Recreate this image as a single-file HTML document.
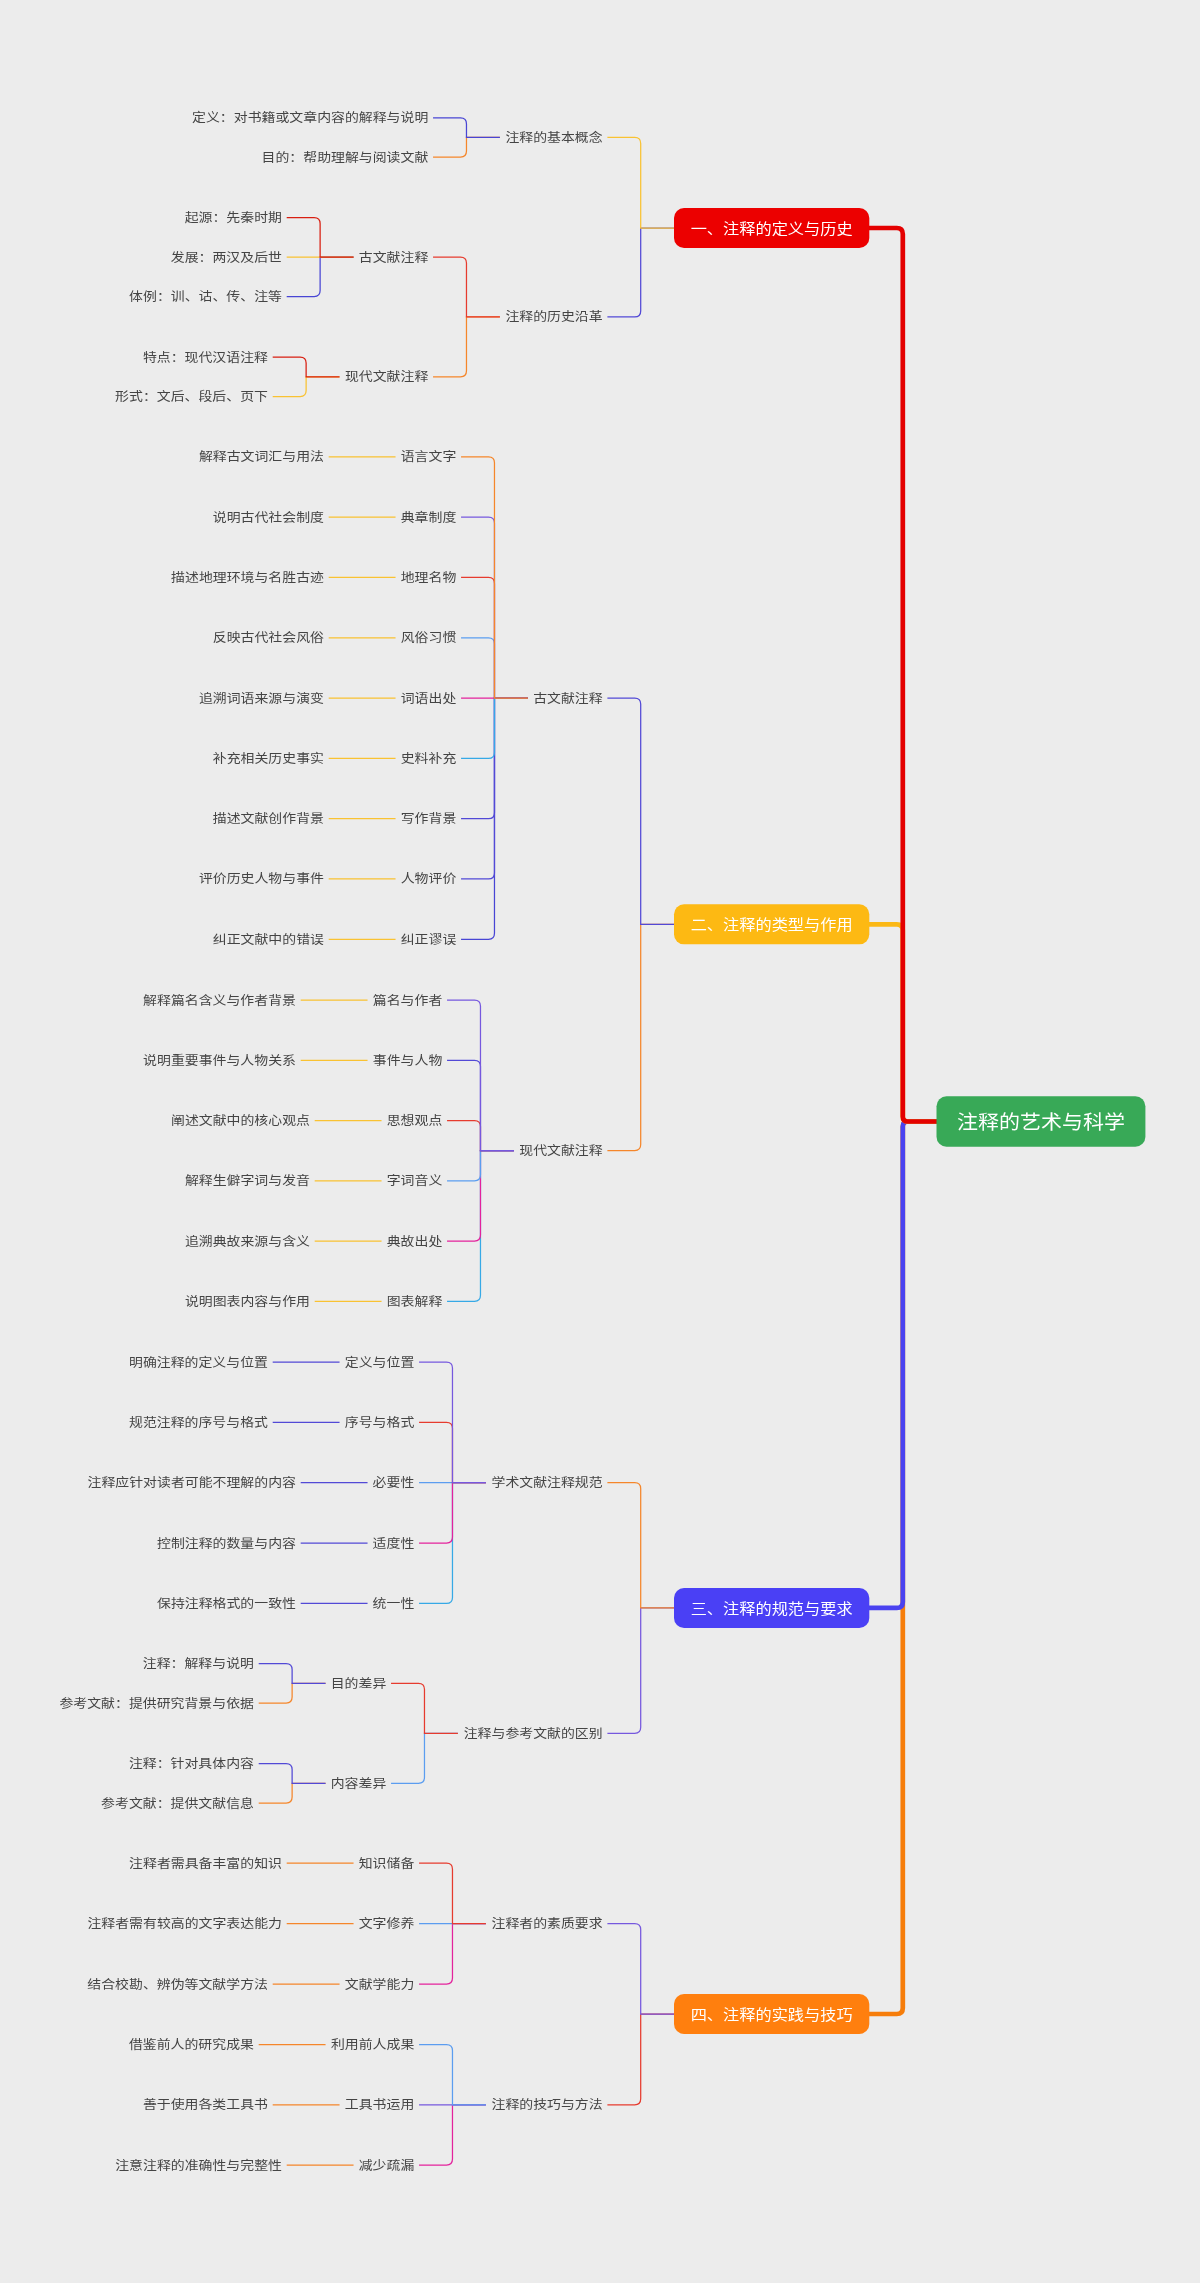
<!DOCTYPE html>
<html lang="zh-CN">
<head>
<meta charset="utf-8">
<title>注释的艺术与科学</title>
<style>
html,body{margin:0;padding:0;background:#ececec;}
body{width:1200px;height:2283px;overflow:hidden;font-family:"Liberation Sans", "Noto Sans CJK SC", sans-serif;}
svg{display:block;will-change:transform;}
svg text{font-family:"Liberation Sans", "Noto Sans CJK SC", sans-serif;font-size:13.9px;font-weight:400;fill:#444;text-anchor:end;}
svg text.t0{font-size:21px;font-weight:400;fill:#fff;text-anchor:middle;}
svg text.t1{font-size:16.2px;fill:#fff;text-anchor:middle;font-weight:400;}
.thin path{fill:none;stroke-width:1.25;}
.thick path{fill:none;stroke-width:4.7;stroke-linejoin:round;}
</style>
</head>
<body>
<svg width="1200" height="2283" viewBox="0 0 1200 2283">
<rect width="1200" height="2283" fill="#ececec"/>
<g class="thin">
<path d="M286.7 2165H353.55" stroke="#f5862a"/>
<path d="M272.7 2104.8H339.55" stroke="#f5862a"/>
<path d="M258.7 2044.6H325.55" stroke="#f5862a"/>
<path d="M419.05 2165H446.47Q452.47 2165 452.47 2159V2104.8H485.9" stroke="#e3229c"/>
<path d="M419.05 2104.8H485.9" stroke="#7658de"/>
<path d="M419.05 2044.6H446.47Q452.47 2044.6 452.47 2050.6V2104.8H485.9" stroke="#5b9df0"/>
<path d="M272.7 1984H339.55" stroke="#f5862a"/>
<path d="M286.7 1923.6H353.55" stroke="#f5862a"/>
<path d="M286.7 1863.2H353.55" stroke="#f5862a"/>
<path d="M419.05 1984H446.47Q452.47 1984 452.47 1978V1923.6H485.9" stroke="#e3229c"/>
<path d="M419.05 1923.6H485.9" stroke="#5b9df0"/>
<path d="M419.05 1863.2H446.47Q452.47 1863.2 452.47 1869.2V1923.6H485.9" stroke="#e63b2e"/>
<path d="M607.4 2104.8H634.7Q640.7 2104.8 640.7 2098.8V2014H674" stroke="#e63b2e"/>
<path d="M607.4 1923.6H634.7Q640.7 1923.6 640.7 1929.6V2014H674" stroke="#7658de"/>
<path d="M258.7 1803H286.12Q292.12 1803 292.12 1797V1783.25H325.55" stroke="#f5862a"/>
<path d="M258.7 1763.5H286.12Q292.12 1763.5 292.12 1769.5V1783.25H325.55" stroke="#5249d6"/>
<path d="M258.7 1703H286.12Q292.12 1703 292.12 1697V1683.25H325.55" stroke="#f5862a"/>
<path d="M258.7 1663.5H286.12Q292.12 1663.5 292.12 1669.5V1683.25H325.55" stroke="#5249d6"/>
<path d="M391.05 1783.25H418.47Q424.47 1783.25 424.47 1777.25V1733.25H457.9" stroke="#5b9df0"/>
<path d="M391.05 1683.25H418.47Q424.47 1683.25 424.47 1689.25V1733.25H457.9" stroke="#e63b2e"/>
<path d="M300.7 1603.4H367.55" stroke="#5249d6"/>
<path d="M300.7 1543.05H367.55" stroke="#5249d6"/>
<path d="M300.7 1482.7H367.55" stroke="#5249d6"/>
<path d="M272.7 1422.35H339.55" stroke="#5249d6"/>
<path d="M272.7 1362H339.55" stroke="#5249d6"/>
<path d="M419.05 1603.4H446.47Q452.47 1603.4 452.47 1597.4V1482.7H485.9" stroke="#36a9e6"/>
<path d="M419.05 1543.05H446.47Q452.47 1543.05 452.47 1537.05V1482.7H485.9" stroke="#e3229c"/>
<path d="M419.05 1482.7H485.9" stroke="#5b9df0"/>
<path d="M419.05 1422.35H446.47Q452.47 1422.35 452.47 1428.35V1482.7H485.9" stroke="#e63b2e"/>
<path d="M419.05 1362H446.47Q452.47 1362 452.47 1368V1482.7H485.9" stroke="#7658de"/>
<path d="M607.4 1733.25H634.7Q640.7 1733.25 640.7 1727.25V1607.95H674" stroke="#7658de"/>
<path d="M607.4 1482.7H634.7Q640.7 1482.7 640.7 1488.7V1607.95H674" stroke="#f5862a"/>
<path d="M314.7 1301.25H381.55" stroke="#f9c232"/>
<path d="M314.7 1241H381.55" stroke="#f9c232"/>
<path d="M314.7 1180.75H381.55" stroke="#f9c232"/>
<path d="M314.7 1120.5H381.55" stroke="#f9c232"/>
<path d="M300.7 1060.25H367.55" stroke="#f9c232"/>
<path d="M300.7 1000H367.55" stroke="#f9c232"/>
<path d="M447.05 1301.25H474.47Q480.47 1301.25 480.47 1295.25V1150.62H513.9" stroke="#36a9e6"/>
<path d="M447.05 1241H474.47Q480.47 1241 480.47 1235V1150.62H513.9" stroke="#e3229c"/>
<path d="M447.05 1180.75H474.47Q480.47 1180.75 480.47 1174.75V1150.62H513.9" stroke="#5b9df0"/>
<path d="M447.05 1120.5H474.47Q480.47 1120.5 480.47 1126.5V1150.62H513.9" stroke="#e63b2e"/>
<path d="M447.05 1060.25H474.47Q480.47 1060.25 480.47 1066.25V1150.62H513.9" stroke="#5249d6"/>
<path d="M447.05 1000H474.47Q480.47 1000 480.47 1006V1150.62H513.9" stroke="#7658de"/>
<path d="M328.7 939.3H395.55" stroke="#f9c232"/>
<path d="M328.7 878.99H395.55" stroke="#f9c232"/>
<path d="M328.7 818.69H395.55" stroke="#f9c232"/>
<path d="M328.7 758.38H395.55" stroke="#f9c232"/>
<path d="M328.7 698.07H395.55" stroke="#f9c232"/>
<path d="M328.7 637.77H395.55" stroke="#f9c232"/>
<path d="M328.7 577.46H395.55" stroke="#f9c232"/>
<path d="M328.7 517.16H395.55" stroke="#f9c232"/>
<path d="M328.7 456.85H395.55" stroke="#f9c232"/>
<path d="M461.05 939.3H488.47Q494.47 939.3 494.47 933.3V698.07H527.9" stroke="#4845d4"/>
<path d="M461.05 878.99H488.47Q494.47 878.99 494.47 872.99V698.07H527.9" stroke="#5249d6"/>
<path d="M461.05 818.69H488.47Q494.47 818.69 494.47 812.69V698.07H527.9" stroke="#5249d6"/>
<path d="M461.05 758.38H488.47Q494.47 758.38 494.47 752.38V698.07H527.9" stroke="#36a9e6"/>
<path d="M461.05 698.07H527.9" stroke="#e3229c"/>
<path d="M461.05 637.77H488.47Q494.47 637.77 494.47 643.77V698.07H527.9" stroke="#5b9df0"/>
<path d="M461.05 577.46H488.47Q494.47 577.46 494.47 583.46V698.07H527.9" stroke="#e63b2e"/>
<path d="M461.05 517.16H488.47Q494.47 517.16 494.47 523.16V698.07H527.9" stroke="#7658de"/>
<path d="M461.05 456.85H488.47Q494.47 456.85 494.47 462.85V698.07H527.9" stroke="#f5862a"/>
<path d="M607.4 1150.62H634.7Q640.7 1150.62 640.7 1144.62V924.35H674" stroke="#f5862a"/>
<path d="M607.4 698.07H634.7Q640.7 698.07 640.7 704.07V924.35H674" stroke="#5249d6"/>
<path d="M272.7 396.5H300.12Q306.12 396.5 306.12 390.5V376.75H339.55" stroke="#f9c232"/>
<path d="M272.7 357H300.12Q306.12 357 306.12 363V376.75H339.55" stroke="#d81e10"/>
<path d="M286.7 296.5H314.12Q320.12 296.5 320.12 290.5V257H353.55" stroke="#4845d4"/>
<path d="M286.7 257H353.55" stroke="#f9c232"/>
<path d="M286.7 217.5H314.12Q320.12 217.5 320.12 223.5V257H353.55" stroke="#d81e10"/>
<path d="M433.05 376.75H460.47Q466.47 376.75 466.47 370.75V316.88H499.9" stroke="#f5862a"/>
<path d="M433.05 257H460.47Q466.47 257 466.47 263V316.88H499.9" stroke="#e63b2e"/>
<path d="M433.05 157.05H460.47Q466.47 157.05 466.47 151.05V137.48H499.9" stroke="#f5862a"/>
<path d="M433.05 117.9H460.47Q466.47 117.9 466.47 123.9V137.48H499.9" stroke="#4845d4"/>
<path d="M607.4 316.88H634.7Q640.7 316.88 640.7 310.88V228H674" stroke="#5249d6"/>
<path d="M607.4 137.48H634.7Q640.7 137.48 640.7 143.48V228H674" stroke="#f9c232"/>
</g>
<g class="thick">
<path d="M867.3 2014H896.8Q902.8 2014 902.8 2008V1126.5Q902.8 1121.5 907.8 1121.5H938.5" stroke="#f67d0a"/>
<path d="M867.3 1607.95H896.8Q902.8 1607.95 902.8 1601.95V1126.5Q902.8 1121.5 907.8 1121.5H938.5" stroke="#4a42f0"/>
<path d="M867.3 924.35H896.8Q902.8 924.35 902.8 930.35V1116.5Q902.8 1121.5 907.8 1121.5H938.5" stroke="#fbb815"/>
<path d="M867.3 228H896.8Q902.8 228 902.8 234V1116.5Q902.8 1121.5 907.8 1121.5H938.5" stroke="#e40000"/>
</g>
<g class="boxes">
<rect x="936.5" y="1096.3" width="208.9" height="50.4" rx="10" fill="#38a957"/>
<rect x="674" y="208" width="195.3" height="40" rx="10" fill="#ec0000"/>
<rect x="674" y="904.35" width="195.3" height="40" rx="10" fill="#fdb913"/>
<rect x="674" y="1587.95" width="195.3" height="40" rx="10" fill="#4a40f5"/>
<rect x="674" y="1994" width="195.3" height="40" rx="10" fill="#ff7f0e"/>
</g>
<g class="labels">
<text class="t0" transform="translate(1040.95 1129) scale(1 0.94)">注释的艺术与科学</text>
<text class="t1" transform="translate(771.65 234) scale(1 0.9)">一、注释的定义与历史</text>
<text transform="translate(602.65 142) scale(1 0.9)">注释的基本概念</text>
<text transform="translate(428.3 122) scale(1 0.9)">定义：对书籍或文章内容的解释与说明</text>
<text transform="translate(428.3 162) scale(1 0.9)">目的：帮助理解与阅读文献</text>
<text transform="translate(602.65 321) scale(1 0.9)">注释的历史沿革</text>
<text transform="translate(428.3 262) scale(1 0.9)">古文献注释</text>
<text transform="translate(281.95 222) scale(1 0.9)">起源：先秦时期</text>
<text transform="translate(281.95 262) scale(1 0.9)">发展：两汉及后世</text>
<text transform="translate(281.95 301) scale(1 0.9)">体例：训、诂、传、注等</text>
<text transform="translate(428.3 381) scale(1 0.9)">现代文献注释</text>
<text transform="translate(267.95 362) scale(1 0.9)">特点：现代汉语注释</text>
<text transform="translate(267.95 401) scale(1 0.9)">形式：文后、段后、页下</text>
<text class="t1" transform="translate(771.65 930) scale(1 0.9)">二、注释的类型与作用</text>
<text transform="translate(602.65 703) scale(1 0.9)">古文献注释</text>
<text transform="translate(456.3 461) scale(1 0.9)">语言文字</text>
<text transform="translate(323.95 461) scale(1 0.9)">解释古文词汇与用法</text>
<text transform="translate(456.3 522) scale(1 0.9)">典章制度</text>
<text transform="translate(323.95 522) scale(1 0.9)">说明古代社会制度</text>
<text transform="translate(456.3 582) scale(1 0.9)">地理名物</text>
<text transform="translate(323.95 582) scale(1 0.9)">描述地理环境与名胜古迹</text>
<text transform="translate(456.3 642) scale(1 0.9)">风俗习惯</text>
<text transform="translate(323.95 642) scale(1 0.9)">反映古代社会风俗</text>
<text transform="translate(456.3 703) scale(1 0.9)">词语出处</text>
<text transform="translate(323.95 703) scale(1 0.9)">追溯词语来源与演变</text>
<text transform="translate(456.3 763) scale(1 0.9)">史料补充</text>
<text transform="translate(323.95 763) scale(1 0.9)">补充相关历史事实</text>
<text transform="translate(456.3 823) scale(1 0.9)">写作背景</text>
<text transform="translate(323.95 823) scale(1 0.9)">描述文献创作背景</text>
<text transform="translate(456.3 883) scale(1 0.9)">人物评价</text>
<text transform="translate(323.95 883) scale(1 0.9)">评价历史人物与事件</text>
<text transform="translate(456.3 944) scale(1 0.9)">纠正谬误</text>
<text transform="translate(323.95 944) scale(1 0.9)">纠正文献中的错误</text>
<text transform="translate(602.65 1155) scale(1 0.9)">现代文献注释</text>
<text transform="translate(442.3 1005) scale(1 0.9)">篇名与作者</text>
<text transform="translate(295.95 1005) scale(1 0.9)">解释篇名含义与作者背景</text>
<text transform="translate(442.3 1065) scale(1 0.9)">事件与人物</text>
<text transform="translate(295.95 1065) scale(1 0.9)">说明重要事件与人物关系</text>
<text transform="translate(442.3 1125) scale(1 0.9)">思想观点</text>
<text transform="translate(309.95 1125) scale(1 0.9)">阐述文献中的核心观点</text>
<text transform="translate(442.3 1185) scale(1 0.9)">字词音义</text>
<text transform="translate(309.95 1185) scale(1 0.9)">解释生僻字词与发音</text>
<text transform="translate(442.3 1246) scale(1 0.9)">典故出处</text>
<text transform="translate(309.95 1246) scale(1 0.9)">追溯典故来源与含义</text>
<text transform="translate(442.3 1306) scale(1 0.9)">图表解释</text>
<text transform="translate(309.95 1306) scale(1 0.9)">说明图表内容与作用</text>
<text class="t1" transform="translate(771.65 1614) scale(1 0.9)">三、注释的规范与要求</text>
<text transform="translate(602.65 1487) scale(1 0.9)">学术文献注释规范</text>
<text transform="translate(414.3 1367) scale(1 0.9)">定义与位置</text>
<text transform="translate(267.95 1367) scale(1 0.9)">明确注释的定义与位置</text>
<text transform="translate(414.3 1427) scale(1 0.9)">序号与格式</text>
<text transform="translate(267.95 1427) scale(1 0.9)">规范注释的序号与格式</text>
<text transform="translate(414.3 1487) scale(1 0.9)">必要性</text>
<text transform="translate(295.95 1487) scale(1 0.9)">注释应针对读者可能不理解的内容</text>
<text transform="translate(414.3 1548) scale(1 0.9)">适度性</text>
<text transform="translate(295.95 1548) scale(1 0.9)">控制注释的数量与内容</text>
<text transform="translate(414.3 1608) scale(1 0.9)">统一性</text>
<text transform="translate(295.95 1608) scale(1 0.9)">保持注释格式的一致性</text>
<text transform="translate(602.65 1738) scale(1 0.9)">注释与参考文献的区别</text>
<text transform="translate(386.3 1688) scale(1 0.9)">目的差异</text>
<text transform="translate(253.95 1668) scale(1 0.9)">注释：解释与说明</text>
<text transform="translate(253.95 1708) scale(1 0.9)">参考文献：提供研究背景与依据</text>
<text transform="translate(386.3 1788) scale(1 0.9)">内容差异</text>
<text transform="translate(253.95 1768) scale(1 0.9)">注释：针对具体内容</text>
<text transform="translate(253.95 1808) scale(1 0.9)">参考文献：提供文献信息</text>
<text class="t1" transform="translate(771.65 2020) scale(1 0.9)">四、注释的实践与技巧</text>
<text transform="translate(602.65 1928) scale(1 0.9)">注释者的素质要求</text>
<text transform="translate(414.3 1868) scale(1 0.9)">知识储备</text>
<text transform="translate(281.95 1868) scale(1 0.9)">注释者需具备丰富的知识</text>
<text transform="translate(414.3 1928) scale(1 0.9)">文字修养</text>
<text transform="translate(281.95 1928) scale(1 0.9)">注释者需有较高的文字表达能力</text>
<text transform="translate(414.3 1989) scale(1 0.9)">文献学能力</text>
<text transform="translate(267.95 1989) scale(1 0.9)">结合校勘、辨伪等文献学方法</text>
<text transform="translate(602.65 2109) scale(1 0.9)">注释的技巧与方法</text>
<text transform="translate(414.3 2049) scale(1 0.9)">利用前人成果</text>
<text transform="translate(253.95 2049) scale(1 0.9)">借鉴前人的研究成果</text>
<text transform="translate(414.3 2109) scale(1 0.9)">工具书运用</text>
<text transform="translate(267.95 2109) scale(1 0.9)">善于使用各类工具书</text>
<text transform="translate(414.3 2170) scale(1 0.9)">减少疏漏</text>
<text transform="translate(281.95 2170) scale(1 0.9)">注意注释的准确性与完整性</text>
</g>
</svg>
</body>
</html>
